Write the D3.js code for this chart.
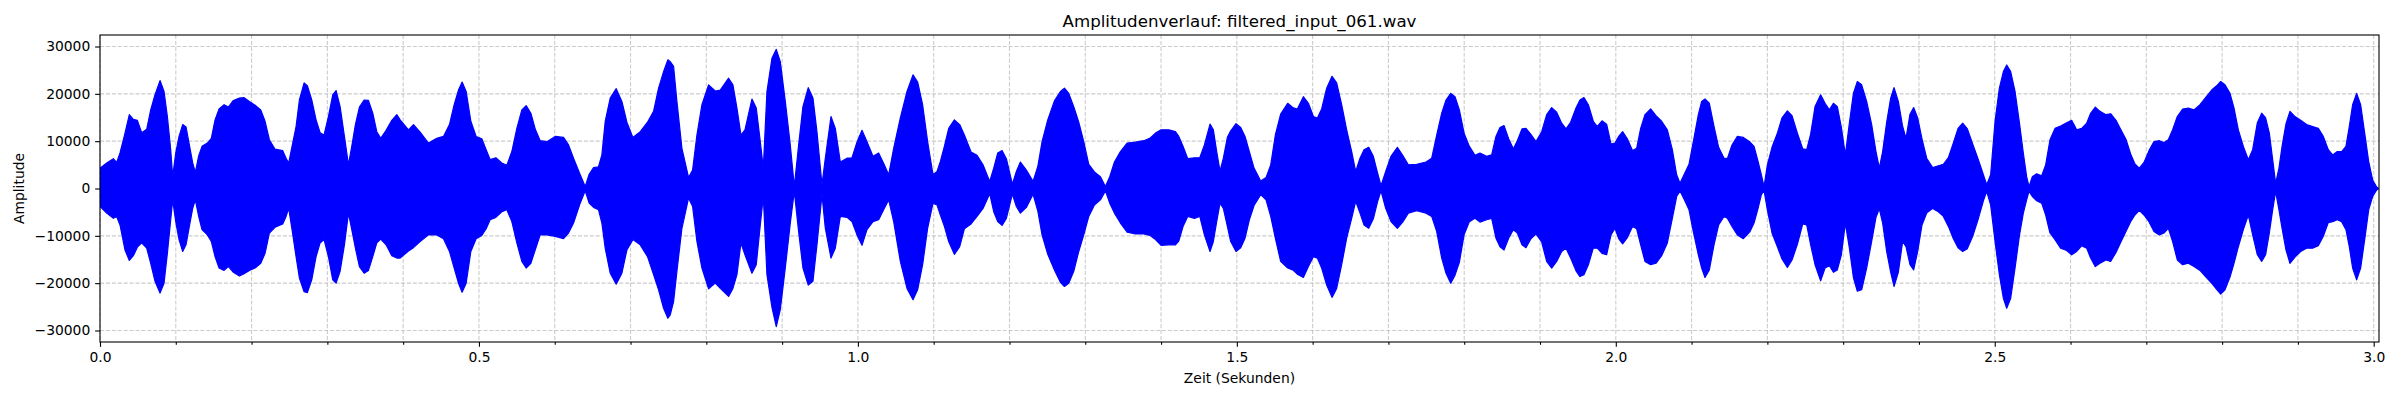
<!DOCTYPE html>
<html>
<head>
<meta charset="utf-8">
<script src="https://cdn.jsdelivr.net/npm/d3@7"></script>
<style>
  html, body { margin: 0; padding: 0; background: #ffffff; }
  svg { display: block; }
  text { font-family: "DejaVu Sans", sans-serif; fill: #000; }
</style>
</head>
<body>
<svg id="chart" width="2400" height="400"></svg>
<script>
// ---- data ----
const chartTitle = "Amplitudenverlauf: filtered_input_061.wav";
const xLabel = "Zeit (Sekunden)";
const yLabel = "Amplitude";

const xMajorTicks = [0.0, 0.5, 1.0, 1.5, 2.0, 2.5, 3.0];
const xMinorTicks = [0.1, 0.2, 0.3, 0.4, 0.6, 0.7, 0.8, 0.9, 1.1, 1.2, 1.3, 1.4, 1.6, 1.7, 1.8, 1.9,
                     2.1, 2.2, 2.3, 2.4, 2.6, 2.7, 2.8, 2.9];
const yTicks = [-30000, -20000, -10000, 0, 10000, 20000, 30000];
const xDomain = [0, 3.007];
const yDomain = [-32430, 32430];

// envelope of the waveform: time (s), positive peak, negative peak
const timeSec = [
  0.0000, 0.0088, 0.0176, 0.0220, 0.0264, 0.0330, 0.0387, 0.0440, 0.0493, 0.0550, 0.0616, 0.0669, 0.0726, 0.0792,
  0.0845, 0.0889, 0.0933, 0.0959, 0.0999, 0.1043, 0.1091, 0.1135, 0.1179, 0.1223, 0.1258, 0.1302, 0.1346, 0.1417,
  0.1469, 0.1518, 0.1571, 0.1637, 0.1694, 0.1760, 0.1839, 0.1901, 0.1971, 0.2046, 0.2121, 0.2178, 0.2235, 0.2310,
  0.2411, 0.2455, 0.2490, 0.2534, 0.2587, 0.2631, 0.2693, 0.2736, 0.2794, 0.2851, 0.2904, 0.2956, 0.3014, 0.3071,
  0.3115, 0.3168, 0.3225, 0.3278, 0.3322, 0.3370, 0.3423, 0.3485, 0.3542, 0.3599, 0.3652, 0.3704, 0.3775, 0.3850,
  0.3916,
  0.3960, 0.4070, 0.4136, 0.4224, 0.4334, 0.4444, 0.4532, 0.4611, 0.4673, 0.4730, 0.4778, 0.4831, 0.4893, 0.4963,
  0.5038, 0.5095, 0.5148, 0.5223, 0.5302, 0.5368, 0.5434, 0.5500, 0.5566, 0.5623, 0.5685, 0.5742, 0.5808, 0.5896,
  0.6006, 0.6116, 0.6182, 0.6248, 0.6336, 0.6402, 0.6454, 0.6512, 0.6578, 0.6622, 0.6666, 0.6732, 0.6811, 0.6886,
  0.6952, 0.7031, 0.7128, 0.7224, 0.7304, 0.7370, 0.7436, 0.7493,
  0.7524, 0.7568, 0.7612, 0.7678, 0.7766, 0.7819, 0.7876, 0.7942, 0.8030, 0.8118, 0.8184, 0.8294, 0.8351, 0.8404,
  0.8457, 0.8510, 0.8602, 0.8659, 0.8712, 0.8752, 0.8800, 0.8866, 0.8923, 0.8976, 0.9042, 0.9108, 0.9161, 0.9218,
  0.9275, 0.9345, 0.9407, 0.9460, 0.9526, 0.9570, 0.9645, 0.9702, 0.9768, 0.9856, 0.9922, 0.9988, 1.0054, 1.0120,
  1.0199, 1.0274, 1.0348, 1.0406, 1.0472, 1.0560, 1.0648, 1.0727, 1.0788, 1.0854, 1.0920, 1.0991, 1.1044,
  1.1088, 1.1141, 1.1198, 1.1273, 1.1343, 1.1405, 1.1493, 1.1572, 1.1651, 1.1739, 1.1792, 1.1845, 1.1902, 1.1959,
  1.2038, 1.2091, 1.2144, 1.2223, 1.2311, 1.2373, 1.2430, 1.2505, 1.2593, 1.2672, 1.2725, 1.2782, 1.2848, 1.2914,
  1.2980, 1.3046, 1.3121, 1.3200, 1.3266, 1.3323, 1.3385, 1.3464, 1.3552, 1.3662, 1.3772, 1.3851, 1.3926, 1.4001,
  1.4102, 1.4190, 1.4234, 1.4291, 1.4352, 1.4440, 1.4511, 1.4572,
  1.4646, 1.4690, 1.4734, 1.4778, 1.4822, 1.4875, 1.4919, 1.4989, 1.5051, 1.5108, 1.5165, 1.5227, 1.5315, 1.5385,
  1.5447, 1.5508, 1.5578, 1.5671, 1.5737, 1.5798, 1.5878, 1.5944, 1.6010, 1.6062, 1.6119, 1.6185, 1.6256, 1.6317,
  1.6383, 1.6449, 1.6515, 1.6568, 1.6625, 1.6678, 1.6740, 1.6801, 1.6858, 1.6902, 1.6964, 1.7034, 1.7118, 1.7188,
  1.7263, 1.7373, 1.7496, 1.7571, 1.7637, 1.7703, 1.7760, 1.7822, 1.7879, 1.7936, 1.7998, 1.8068, 1.8143,
  1.8208, 1.8296, 1.8362, 1.8419, 1.8472, 1.8525, 1.8586, 1.8648, 1.8701, 1.8762, 1.8815, 1.8877, 1.8947, 1.9022,
  1.9088, 1.9154, 1.9220, 1.9286, 1.9343, 1.9404, 1.9475, 1.9527, 1.9580, 1.9638, 1.9703, 1.9756, 1.9818, 1.9879,
  1.9937, 1.9989, 2.0038, 2.0090, 2.0152, 2.0222, 2.0275, 2.0328, 2.0385, 2.0460, 2.0530, 2.0605, 2.0680, 2.0746,
  2.0803, 2.0847, 2.0900, 2.0966, 2.1023, 2.1089, 2.1133, 2.1177, 2.1234, 2.1296, 2.1357, 2.1428, 2.1472, 2.1533,
  2.1604, 2.1683,
  2.1771, 2.1824, 2.1877, 2.1921, 2.1956, 2.2000, 2.2061, 2.2132, 2.2193, 2.2264, 2.2325, 2.2396, 2.2466, 2.2519,
  2.2571, 2.2629, 2.2703, 2.2761, 2.2818, 2.2871, 2.2923, 2.2976, 2.3029, 2.3082, 2.3135, 2.3187, 2.3244, 2.3310,
  2.3376, 2.3433, 2.3477, 2.3521, 2.3574, 2.3627, 2.3671, 2.3728, 2.3785, 2.3829, 2.3882, 2.3930, 2.3983, 2.4040,
  2.4102, 2.4181, 2.4256, 2.4322, 2.4388, 2.4454, 2.4516, 2.4577, 2.4639, 2.4709, 2.4779, 2.4850, 2.4894, 2.4946,
  2.5004, 2.5061, 2.5114, 2.5158, 2.5210, 2.5268, 2.5325,
  2.5377, 2.5421, 2.5452, 2.5496, 2.5553, 2.5619, 2.5672, 2.5729, 2.5795, 2.5869, 2.5949, 2.6015, 2.6081, 2.6147,
  2.6213, 2.6265, 2.6327, 2.6388, 2.6468, 2.6529, 2.6600, 2.6661, 2.6731, 2.6793, 2.6850, 2.6907, 2.6969, 2.7035,
  2.7101, 2.7171, 2.7233, 2.7290, 2.7347, 2.7409, 2.7479, 2.7554, 2.7629, 2.7708, 2.7787, 2.7862, 2.7928, 2.7981,
  2.8038, 2.8104, 2.8157, 2.8214, 2.8280, 2.8346, 2.8403, 2.8465, 2.8522, 2.8574, 2.8623, 2.8667, 2.8706, 2.8750,
  2.8794, 2.8843, 2.8895, 2.8961, 2.9036, 2.9115, 2.9194, 2.9269, 2.9335, 2.9401, 2.9458, 2.9520, 2.9577, 2.9634,
  2.9678, 2.9722, 2.9775, 2.9828, 2.9881, 2.9934, 2.9986, 3.0039, 3.0060
];

const upperAmp = [
  4300, 5400, 6300, 5500, 7500, 11700, 15600, 14600, 14400, 11800, 12500, 16600, 19800, 22800,
  20500, 15200, 8200, 2500, 7500, 11000, 13500, 13000, 9200, 5400, 3400, 6900, 8900, 9600,
  10600, 14500, 16800, 17700, 17200, 18600, 19100, 19200, 18400, 17600, 16600, 14200, 10300, 8300,
  8000, 6400, 5400, 8900, 13100, 18700, 22300, 21700, 18700, 14500, 11800, 11300, 15200, 19800,
  20700, 17300, 11000, 5000, 8900, 13500, 17200, 18700, 18600, 15900, 12000, 10600, 12300, 14400,
  15600,
  14500, 12400, 13500, 11900, 9600, 10600, 11000, 13500, 17700, 20800, 22500, 20500, 14200, 11000,
  10500, 8200, 6100, 6500, 5400, 4900, 7800, 12700, 16600, 17500, 15900, 12600, 10100, 9900,
  11000, 10800, 9200, 6400, 2900, 400, 3000, 4400, 4600, 7100, 14200, 19100, 21100, 18400,
  14000, 10800, 12000, 14000, 16300, 21200, 24700, 27200,
  26800, 25800, 18400, 8500, 2300, 3900, 11300, 17700, 21900, 20600, 20800, 23300, 21900, 17000,
  11300, 12400, 18900, 17000, 9900, 4300, 20500, 27500, 29400, 26800, 18400, 9200, 400, 9200,
  17300, 21300, 19100, 12000, 800, 6400, 15200, 12700, 5600, 6400, 6500, 9800, 12300, 9900,
  6800, 7500, 5000, 2900, 8500, 14900, 20500, 24000, 22500, 17700, 9900, 2900, 3600,
  5700, 8900, 12700, 14500, 13500, 11300, 7700, 7000, 5000, 1500, 4300, 7500, 8000, 6300,
  900, 3600, 5600, 3900, 1500, 4600, 9900, 14500, 18500, 20500, 21200, 20100, 17300, 14000,
  9900, 5100, 3500, 2500, 400, 2500, 5600, 7800, 9600, 9800, 10100, 10600, 11700, 12400,
  12400, 12000, 11000, 8900, 6300, 6500, 6500, 9200,
  13600, 12400, 7800, 3700, 6400, 10800, 12200, 13700, 12900, 11000, 7800, 4300, 1600, 2300,
  5000, 11300, 15700, 18000, 17100, 16800, 19400, 18000, 15200, 14900, 16800, 21200, 23700, 22300,
  17700, 12400, 7800, 3600, 6400, 8200, 8700, 6800, 3200, 600, 3600, 6800, 8700, 7000,
  5000, 5100, 5600, 6400, 11300, 15900, 18700, 20100, 19400, 16600, 11700, 8900, 7000,
  7500, 6800, 7100, 11000, 12900, 13300, 10500, 8400, 10100, 12600, 12700, 11500, 9900, 12000,
  15600, 17100, 16100, 13800, 12600, 14000, 17000, 18700, 19200, 17700, 14200, 13100, 14300, 13600,
  9400, 9600, 11000, 12000, 10500, 8000, 8500, 12700, 15600, 16800, 15400, 14200, 12400, 8200,
  2900, 1100, 2900, 5100, 9900, 15600, 18400, 18900, 18000, 13100, 8700, 6400, 6300, 9200,
  11000, 10800,
  9800, 8900, 5700, 2900, 400, 5000, 8700, 11700, 14900, 16400, 15400, 11700, 8400, 8200,
  11500, 17300, 19800, 18000, 16600, 18000, 17300, 12900, 7100, 13800, 20100, 22600, 21900, 18400,
  13500, 7800, 4300, 7800, 14000, 19100, 21300, 18400, 13100, 10600, 15700, 17100, 14900, 10500,
  6400, 4400, 4800, 5100, 6500, 9600, 12700, 13800, 12600, 9400, 6300, 2900, 800, 2900,
  14200, 21200, 24700, 26100, 24700, 20500, 14000,
  7500, 2500, 400, 2500, 3100, 2700, 5000, 10300, 12700, 13200, 13900, 14400, 12400, 12700,
  13800, 15900, 17200, 16300, 15600, 15800, 14400, 12500, 10400, 7300, 5200, 4300, 5500, 8000,
  9900, 10100, 9700, 10300, 12400, 15200, 16800, 17000, 16600, 17700, 19300, 20800, 21700, 22600,
  21900, 20100, 17000, 12400, 8900, 6100, 8200, 13900, 15900, 14900, 11700, 6100, 1100, 4300,
  9200, 13700, 16300, 15200, 14400, 13500, 13100, 12700, 11000, 8200, 7100, 7800, 7800, 8900,
  13100, 17700, 20100, 17700, 11700, 5700, 1800, 300, 100
];

const lowerAmp = [
  -3800, -5200, -6300, -5900, -7700, -13000, -15200, -14200, -12400, -11500, -12600, -15800, -19600, -22100,
  -20000, -13700, -6600, -2400, -7000, -10800, -13300, -11900, -8000, -4200, -2400, -5900, -8700, -9800,
  -11200, -14400, -16800, -17300, -16500, -17700, -18500, -18000, -17300, -16800, -15800, -13700, -9400, -8200,
  -7500, -5900, -4200, -8700, -14400, -18900, -21800, -22000, -19300, -14400, -11500, -10800, -14400, -19300,
  -20000, -17500, -11900, -5200, -8700, -12600, -16500, -17900, -17300, -14400, -11500, -10700, -11900, -14200,
  -14700,
  -14700, -13200, -12500, -11200, -9800, -9800, -10600, -13300, -16800, -20000, -21900, -20000, -13300, -10600,
  -9900, -8500, -6600, -6100, -4900, -4500, -7000, -11500, -15400, -16800, -15800, -13000, -9800, -9800,
  -10100, -10600, -9400, -7300, -3100, -500, -3100, -4000, -4500, -7300, -12600, -17900, -20200, -17900,
  -13000, -10800, -11900, -14400, -18200, -21400, -25300, -27400,
  -26700, -23900, -17500, -8400, -2000, -3800, -11200, -16800, -21200, -20000, -21100, -22800, -21100, -18200,
  -11500, -14000, -17900, -16100, -7700, -1700, -18200, -25100, -29200, -25600, -16800, -7300, -600, -9100,
  -16800, -20400, -19600, -11900, -1300, -8400, -14700, -12600, -5900, -6100, -7000, -9800, -12000, -8700,
  -7000, -6600, -4200, -2400, -7000, -15400, -21100, -23500, -21400, -16100, -8400, -3100, -3500,
  -5600, -8000, -11200, -13900, -12300, -8500, -7500, -5900, -4200, -1100, -4900, -7000, -7800, -6300,
  -1200, -3800, -5200, -4000, -1200, -4700, -9800, -13900, -17200, -19800, -20700, -20000, -17500, -13300,
  -9800, -5900, -3500, -2400, -500, -3100, -5200, -7300, -9200, -9600, -9600, -9900, -10800, -12000,
  -11900, -11900, -11100, -8000, -5900, -6300, -5900, -9800,
  -13300, -11200, -7000, -3100, -4200, -8000, -11200, -13300, -12500, -10500, -6600, -3600, -1300, -2400,
  -5900, -10500, -15400, -16800, -17200, -18100, -18800, -16500, -14400, -14700, -16800, -20400, -23000, -21100,
  -16100, -10500, -6300, -2700, -5200, -7700, -8400, -6400, -2700, -500, -4200, -7000, -8400, -7100,
  -5200, -4700, -5200, -5900, -9100, -14700, -17900, -20000, -18300, -15600, -9800, -7000, -6300,
  -7100, -6600, -6300, -10500, -12300, -13000, -10500, -8700, -9400, -11900, -12500, -10700, -9600, -11300,
  -15400, -16800, -15400, -13300, -12600, -14700, -17400, -18600, -18200, -16100, -12600, -12600, -13700, -14000,
  -9800, -8400, -10600, -11700, -10400, -8000, -8500, -11900, -15400, -16100, -15800, -14200, -11500, -6300,
  -1700, -500, -2200, -4500, -9100, -14000, -16800, -18800, -17200, -11900, -7700, -5900, -6300, -8000,
  -9800, -10600,
  -9100, -7300, -4200, -1300, -400, -4500, -9400, -12300, -14900, -16700, -15100, -11800, -7500, -7700,
  -11900, -16100, -19500, -16800, -16300, -17700, -17200, -14000, -7300, -12600, -18800, -21700, -21400, -16800,
  -11200, -6100, -4300, -7300, -13300, -17700, -20700, -17700, -11200, -12300, -16100, -17200, -13300, -7700,
  -5200, -4200, -4900, -5900, -8000, -10600, -12500, -13300, -12700, -10100, -6600, -2600, -600, -3500,
  -11200, -18200, -23200, -25300, -23200, -16800, -10000,
  -5200, -2400, -600, -1700, -2600, -3100, -5600, -9400, -10800, -12600, -13100, -14000, -13300, -12100,
  -12600, -14700, -16500, -15800, -15100, -15400, -13500, -11400, -9100, -7000, -5600, -4600, -5600, -7000,
  -9100, -9800, -9400, -8400, -11200, -15100, -16100, -15800, -16500, -17300, -18700, -20000, -21300, -22300,
  -21400, -18700, -15800, -12300, -8700, -5600, -9800, -14000, -15400, -14000, -9400, -4500, -600, -4500,
  -8700, -13000, -15800, -14500, -13300, -12600, -12600, -12100, -10100, -7200, -7000, -6600, -7000, -8700,
  -12300, -16800, -19300, -16800, -10800, -4500, -1700, -300, -100
];

// ---- layout ----
const W = 2400, H = 400;
const plot = { left: 100, right: 2379, top: 35, bottom: 342 };

const svg = d3.select("#chart");
svg.append("rect").attr("width", W).attr("height", H).attr("fill", "#ffffff");

const x = d3.scaleLinear().domain(xDomain).range([plot.left, plot.right]);
const y = d3.scaleLinear().domain(yDomain).range([plot.bottom, plot.top]);

const pts = timeSec.map((t, i) => ({ t: t, hi: upperAmp[i], lo: lowerAmp[i] }));

const gridColor = "#b0b0b0";
const gridG = svg.append("g").attr("class", "grid");
// vertical grid (major + minor)
gridG.selectAll("line.vx")
  .data(xMajorTicks.concat(xMinorTicks))
  .enter().append("line")
  .attr("x1", d => x(d)).attr("x2", d => x(d))
  .attr("y1", plot.top).attr("y2", plot.bottom)
  .attr("stroke", gridColor).attr("stroke-opacity", 0.65)
  .attr("stroke-width", 1.1).attr("stroke-dasharray", "4.1,1.8");
// horizontal grid
gridG.selectAll("line.hy")
  .data(yTicks)
  .enter().append("line")
  .attr("x1", plot.left).attr("x2", plot.right)
  .attr("y1", d => y(d)).attr("y2", d => y(d))
  .attr("stroke", gridColor).attr("stroke-opacity", 0.65)
  .attr("stroke-width", 1.1).attr("stroke-dasharray", "4.1,1.8");

// clip
svg.append("clipPath").attr("id", "clip")
  .append("rect").attr("x", plot.left).attr("y", plot.top)
  .attr("width", plot.right - plot.left).attr("height", plot.bottom - plot.top);

// waveform envelope
const area = d3.area()
  .x(d => x(d.t))
  .y0(d => y(d.lo))
  .y1(d => y(d.hi));

svg.append("path")
  .datum(pts)
  .attr("clip-path", "url(#clip)")
  .attr("d", area)
  .attr("fill", "#0000ff")
  .attr("stroke", "#0000ff")
  .attr("stroke-width", 1.2)
  .attr("stroke-linejoin", "round");

// axes
const fontPx = 13.89;
const xAxis = d3.axisBottom(x).tickValues(xMajorTicks).tickFormat(d3.format(".1f"))
  .tickSize(4.86).tickPadding(4.86);
const xMinor = d3.axisBottom(x).tickValues(xMinorTicks).tickFormat("").tickSize(2.78);
const yAxis = d3.axisLeft(y).tickValues(yTicks).tickFormat(d3.format("d"))
  .tickSize(4.86).tickPadding(4.86);

function styleAxis(g) {
  g.select(".domain").remove();
  g.selectAll(".tick line").attr("stroke", "#000").attr("stroke-width", 1.1);
  g.selectAll(".tick text").attr("font-family", "DejaVu Sans").attr("font-size", fontPx).attr("fill", "#000");
}

svg.append("g").attr("transform", `translate(0,${plot.bottom})`).call(xAxis).call(styleAxis);
svg.append("g").attr("transform", `translate(0,${plot.bottom})`).call(xMinor).call(styleAxis);
svg.append("g").attr("transform", `translate(${plot.left},0)`).call(yAxis).call(styleAxis);

// frame (spines)
svg.append("rect")
  .attr("x", plot.left).attr("y", plot.top)
  .attr("width", plot.right - plot.left).attr("height", plot.bottom - plot.top)
  .attr("fill", "none").attr("stroke", "#000").attr("stroke-width", 1.1);

// title and labels
svg.append("text")
  .attr("x", (plot.left + plot.right) / 2).attr("y", 26.7)
  .attr("text-anchor", "middle")
  .attr("font-size", 16.67)
  .text(chartTitle);

svg.append("text")
  .attr("x", (plot.left + plot.right) / 2).attr("y", 383)
  .attr("text-anchor", "middle")
  .attr("font-size", fontPx)
  .text(xLabel);

svg.append("text")
  .attr("transform", `translate(24,${(plot.top + plot.bottom) / 2}) rotate(-90)`)
  .attr("text-anchor", "middle")
  .attr("font-size", fontPx)
  .text(yLabel);
</script>
</body>
</html>
